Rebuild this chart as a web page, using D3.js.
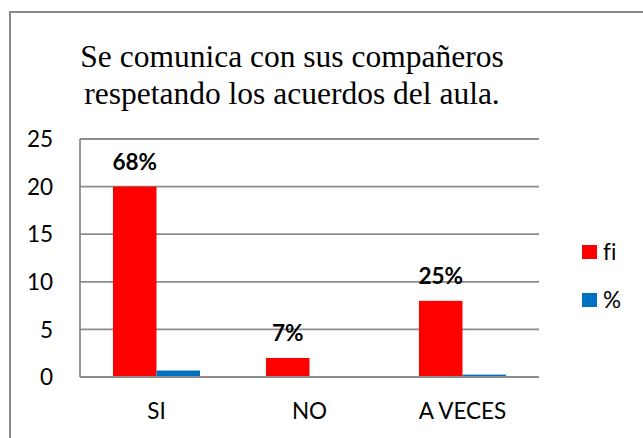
<!DOCTYPE html>
<html><head><meta charset="utf-8">
<script src="https://cdn.jsdelivr.net/npm/d3@7"></script>
<style>html,body{margin:0;padding:0;background:#fff;}svg{display:block;}text{font-variant-ligatures:none;}</style>
</head><body>
<svg id="chart" width="643" height="438"></svg>
<script>
const categories = ["SI", "NO", "A VECES"];
const seriesNames = ["fi", "%"];
const fiValues = [20, 2, 8];
const pctValues = [0.68, 0.07, 0.25];
const yTicks = [0, 5, 10, 15, 20, 25];
const titleLines = ["Se comunica con sus compañeros", "respetando los acuerdos del aula."];
const colors = ["#FF0000", "#0070C0"];

const svg = d3.select("#chart");
const W = 643, H = 438;
const plot = {left: 80, right: 539, top: 139, bottom: 377};
const font = "Lato, 'Open Sans', sans-serif";

// outer chart border
svg.append("rect").attr("x", 10).attr("y", 12).attr("width", W + 10).attr("height", H + 10)
  .attr("fill", "#fff").attr("stroke", "#888").attr("stroke-width", 2);

// title
svg.append("g").selectAll("text").data(titleLines).join("text")
  .attr("x", 292).attr("y", (d, i) => 67 + i * 36.5)
  .attr("text-anchor", "middle")
  .style("font-family", "'Liberation Serif', 'Times New Roman', serif")
  .style("font-size", "31.5px").attr("fill", "#000")
  .text(d => d);

const y = d3.scaleLinear().domain([0, 25]).range([plot.bottom, plot.top]);
const x0 = d3.scaleBand().domain(categories).range([plot.left, plot.right]).padding(0);
const x1 = d3.scaleBand().domain(seriesNames).range([0, x0.bandwidth()]).paddingInner(0).paddingOuter(0.758);

// gridlines
svg.append("g").selectAll("line").data(yTicks).join("line")
  .attr("x1", plot.left).attr("x2", plot.right)
  .attr("y1", d => y(d)).attr("y2", d => y(d))
  .attr("stroke", "#8c8c8c").attr("stroke-width", 1.8);

// left axis line
svg.append("line").attr("x1", plot.left).attr("x2", plot.left)
  .attr("y1", plot.top).attr("y2", plot.bottom)
  .attr("stroke", "#8c8c8c").attr("stroke-width", 1.8);

// y tick labels
svg.append("g").selectAll("text").data(yTicks).join("text")
  .attr("x", 53).attr("y", d => y(d)).attr("dy", "0.36em")
  .attr("text-anchor", "end")
  .style("font-family", font).style("font-size", "22.5px").attr("fill", "#000")
  .text(d => d);

// bars
const rows = categories.map((c, i) => ({cat: c, vals: [fiValues[i], pctValues[i]]}));
const groups = svg.append("g").selectAll("g").data(rows).join("g")
  .attr("transform", d => `translate(${x0(d.cat)},0)`);
groups.selectAll("rect").data(d => d.vals.map((v, j) => ({s: seriesNames[j], v, j}))).join("rect")
  .attr("x", d => x1(d.s)).attr("width", x1.bandwidth())
  .attr("y", d => y(d.v)).attr("height", d => y(0) - y(d.v))
  .attr("fill", d => colors[d.j]);

// baseline on top
svg.append("line").attr("x1", plot.left).attr("x2", plot.right)
  .attr("y1", y(0)).attr("y2", y(0)).attr("stroke", "#8c8c8c").attr("stroke-width", 1.8);

// data labels (percent over fi bars)
svg.append("g").selectAll("text").data(rows).join("text")
  .attr("x", d => x0(d.cat) + x1("fi") + x1.bandwidth() / 2)
  .attr("y", d => y(d.vals[0]) - 17)
  .attr("text-anchor", "middle")
  .style("font-family", font).style("font-size", "22.5px").style("font-weight", "bold").attr("fill", "#000")
  .text(d => Math.round(d.vals[1] * 100) + "%");

// category labels
svg.append("g").selectAll("text").data(categories).join("text")
  .attr("x", d => x0(d) + x0.bandwidth() / 2).attr("y", 419)
  .attr("text-anchor", "middle")
  .style("font-family", font).style("font-size", "22.5px").attr("fill", "#000")
  .text(d => d);

// legend
const leg = svg.append("g").selectAll("g").data(seriesNames).join("g")
  .attr("transform", (d, i) => `translate(582,${245 + i * 48})`);
leg.append("rect").attr("width", 15).attr("height", 14).attr("fill", (d, i) => colors[i]);
leg.append("text").attr("x", 21).attr("y", 7).attr("dy", "0.36em")
  .style("font-family", font).style("font-size", "22.5px").attr("fill", "#000")
  .text(d => d);
</script>
</body></html>
